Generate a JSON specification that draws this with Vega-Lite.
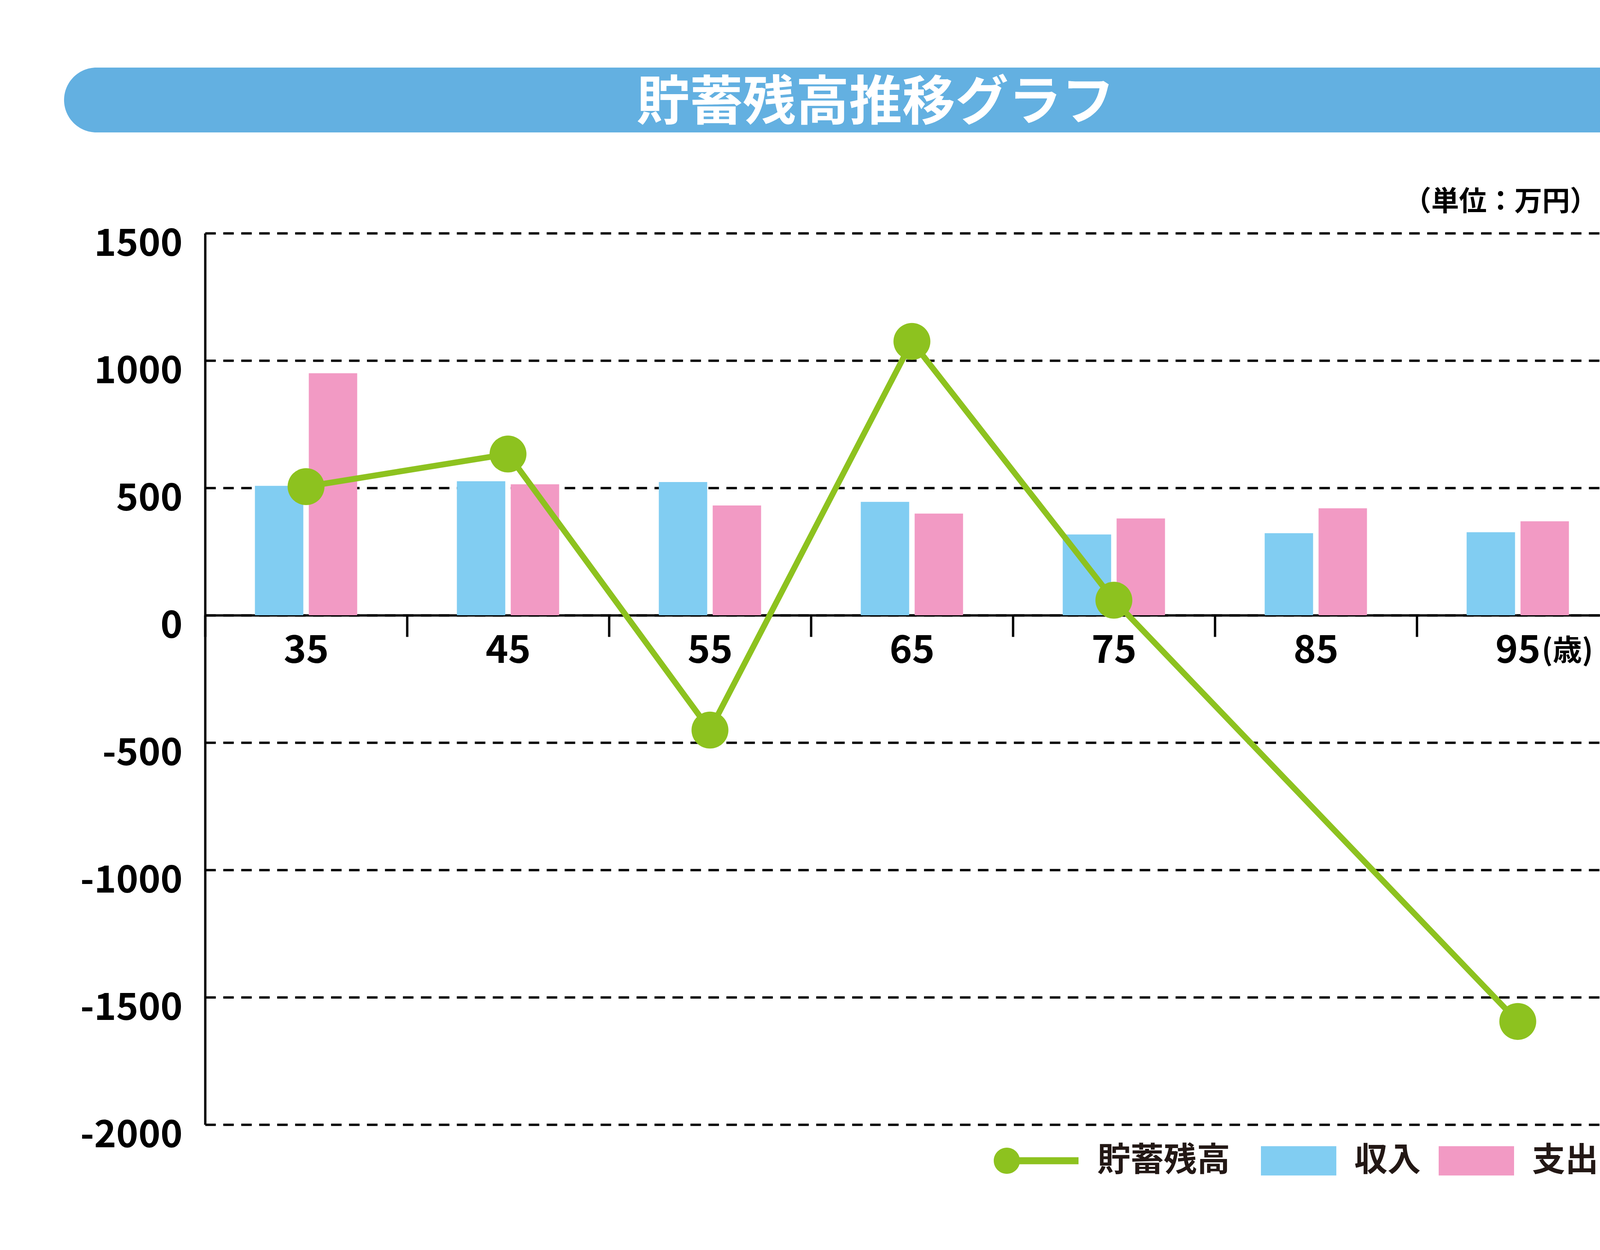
{
  "$schema": "https://vega.github.io/schema/vega-lite/v6.json",
  "width": 3619,
  "height": 2282,
  "autosize": {"type": "none"},
  "padding": {"left": 525, "top": 597, "right": 356, "bottom": 321},
  "background": "white",
  "datasets": {
    "header": [{"label": "貯蓄残高推移グラフ"}],
    "flows": [
      {"age": "35", "type": "収入", "amount": 508},
      {"age": "35", "type": "支出", "amount": 950},
      {"age": "45", "type": "収入", "amount": 526},
      {"age": "45", "type": "支出", "amount": 514},
      {"age": "55", "type": "収入", "amount": 523},
      {"age": "55", "type": "支出", "amount": 431},
      {"age": "65", "type": "収入", "amount": 445},
      {"age": "65", "type": "支出", "amount": 399},
      {"age": "75", "type": "収入", "amount": 317},
      {"age": "75", "type": "支出", "amount": 380},
      {"age": "85", "type": "収入", "amount": 322},
      {"age": "85", "type": "支出", "amount": 420},
      {"age": "95", "type": "収入", "amount": 326},
      {"age": "95", "type": "支出", "amount": 369}
    ],
    "balance": [
      {"age": "35", "series": "貯蓄残高", "balance": 505},
      {"age": "45", "series": "貯蓄残高", "balance": 633},
      {"age": "55", "series": "貯蓄残高", "balance": -451},
      {"age": "65", "series": "貯蓄残高", "balance": 1075},
      {"age": "75", "series": "貯蓄残高", "balance": 59},
      {"age": "95", "series": "貯蓄残高", "balance": -1595}
    ]
  },
  "layer": [
    {
      "data": {"name": "header"},
      "layer": [
        {
          "mark": {"type": "rect", "color": "#63b0e1", "cornerRadius": 83},
          "encoding": {
            "x": {"datum": 0, "type": "quantitative", "scale": {"domain": [0, 1], "range": [-361, 3812]}, "axis": null},
            "x2": {"datum": 1},
            "y": {"datum": 0, "type": "quantitative", "scale": {"domain": [0, 1], "range": [-258, -424]}, "axis": null},
            "y2": {"datum": 1}
          }
        },
        {
          "mark": {"type": "text", "color": "white", "fontSize": 136, "fontWeight": "bold", "dx": -9, "dy": 10},
          "encoding": {
            "x": {"datum": 0.5, "type": "quantitative"},
            "y": {"datum": 0.5, "type": "quantitative"},
            "text": {"field": "label"}
          }
        }
      ]
    },
    {
      "layer": [
        {
          "data": {"name": "flows"},
          "mark": {"type": "bar"},
          "encoding": {
            "x": {
              "field": "age",
              "type": "ordinal",
              "scale": {"domain": ["35", "45", "55", "65", "75", "85", "95"], "paddingInner": 0, "paddingOuter": 0},
              "axis": {
                "orient": "bottom",
                "title": "(歳)",
                "titleX": 3487,
                "titleY": 92,
                "titleAlign": "center",
                "titleBaseline": "middle",
                "titleFontSize": 75,
                "titleFontWeight": "bold",
                "titleColor": "black",
                "labelAngle": 0,
                "labelFontSize": 98,
                "labelFontWeight": "bold",
                "labelColor": "black",
                "labelPadding": -11,
                "labelLimit": 1000,
                "tickBand": "extent",
                "tickSize": 55,
                "tickWidth": 6,
                "tickColor": "black",
                "domainColor": "black",
                "domainWidth": 6,
                "offset": -1304,
                "grid": false
              }
            },
            "xOffset": {
              "field": "type",
              "scale": {"domain": ["収入", "支出"], "paddingInner": 0.1014, "paddingOuter": 0.925}
            },
            "y": {
              "field": "amount",
              "type": "quantitative",
              "scale": {"domain": [-2000, 1500], "nice": false},
              "axis": {
                "orient": "left",
                "title": "（単位：万円）",
                "titleX": 3316,
                "titleY": -80,
                "titleAngle": 0,
                "titleAlign": "center",
                "titleBaseline": "middle",
                "titleFontSize": 71,
                "titleFontWeight": "bold",
                "titleColor": "black",
                "values": [-2000, -1500, -1000, -500, 0, 500, 1000, 1500],
                "labelExpr": "'' + datum.value",
                "labelFontSize": 96,
                "labelFontWeight": "bold",
                "labelColor": "black",
                "labelPadding": 58,
                "labelOffset": 28,
                "labelLimit": 1000,
                "ticks": false,
                "domainColor": "black",
                "domainWidth": 6,
                "grid": true,
                "gridColor": "black",
                "gridDash": [27, 19],
                "gridWidth": 6,
                "gridOpacity": 1
              }
            },
            "color": {
              "field": "type",
              "type": "nominal",
              "scale": {"domain": ["収入", "支出"], "range": ["#81cdf2", "#f29ac4"]},
              "legend": {
                "orient": "none",
                "legendX": 2703,
                "legendY": 2278,
                "direction": "horizontal",
                "title": null,
                "symbolType": "M-1,-0.389H1V0.389H-1Z",
                "symbolSize": 37249,
                "symbolStrokeWidth": 0,
                "symbolOpacity": 1,
                "labelOffset": 46,
                "columnPadding": 45,
                "labelFontSize": 85,
                "labelFontWeight": "bold",
                "labelColor": "#231815",
                "labelLimit": 1000,
                "padding": 0
              }
            }
          }
        },
        {
          "data": {"name": "balance"},
          "mark": {"type": "line", "color": "#8dc21f", "strokeWidth": 15},
          "encoding": {
            "x": {"field": "age", "type": "ordinal", "scale": {"domain": ["35", "45", "55", "65", "75", "85", "95"]}},
            "y": {"field": "balance", "type": "quantitative", "scale": {"domain": [-2000, 1500], "nice": false}}
          }
        },
        {
          "data": {"name": "balance"},
          "mark": {"type": "circle", "size": 8925, "opacity": 1},
          "encoding": {
            "x": {"field": "age", "type": "ordinal", "scale": {"domain": ["35", "45", "55", "65", "75", "85", "95"]}},
            "y": {"field": "balance", "type": "quantitative", "scale": {"domain": [-2000, 1500], "nice": false}},
            "fill": {
              "field": "series",
              "type": "nominal",
              "scale": {"domain": ["貯蓄残高"], "range": ["#8dc21f"]},
              "legend": {
                "orient": "none",
                "legendX": 2019,
                "legendY": 2266,
                "direction": "horizontal",
                "title": null,
                "symbolType": "M-1,0A0.309,0.309,0,1,1,-0.382,0A0.309,0.309,0,1,1,-1,0ZM-0.69,-0.083H1V0.083H-0.69Z",
                "symbolSize": 47089,
                "symbolStrokeWidth": 0,
                "symbolOpacity": 1,
                "labelOffset": 48,
                "labelFontSize": 85,
                "labelFontWeight": "bold",
                "labelColor": "#231815",
                "labelLimit": 1000,
                "padding": 0
              }
            }
          }
        }
      ]
    }
  ],
  "resolve": {"scale": {"x": "independent", "y": "independent"}},
  "config": {
    "font": "Noto Sans CJK JP",
    "view": {"stroke": null},
    "axis": {"labelFont": "Noto Sans CJK JP", "titleFont": "Noto Sans CJK JP"},
    "legend": {"labelFont": "Noto Sans CJK JP"}
  }
}
